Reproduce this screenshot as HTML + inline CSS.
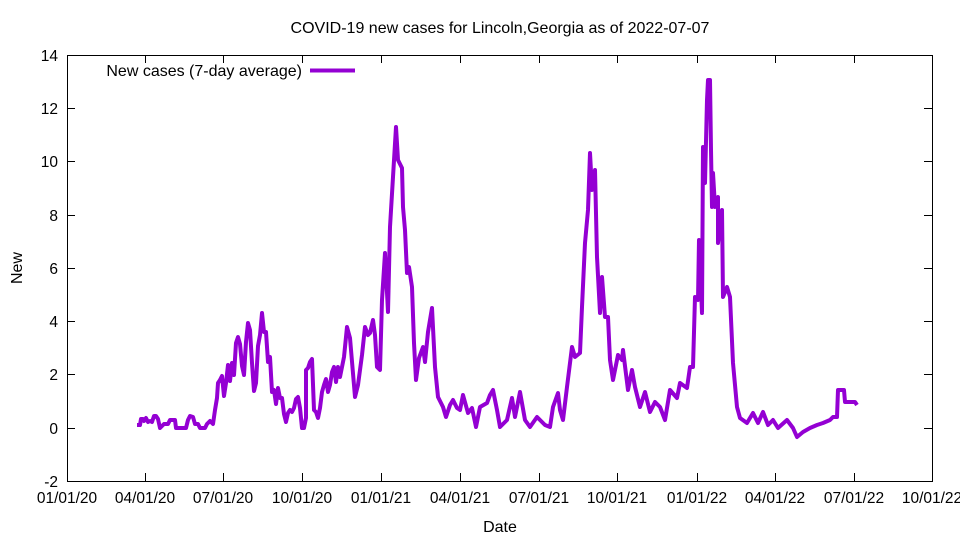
<!DOCTYPE html><html><head><style>body{margin:0;background:#fff}svg{display:block}text{font-family:"Liberation Sans",sans-serif;font-size:15.5px;fill:#000}</style></head><body>
<svg width="960" height="540" viewBox="0 0 960 540">
<rect x="67.5" y="55.5" width="865" height="426" fill="none" stroke="#000" stroke-width="1"/>
<g stroke="#000" stroke-width="1">
<path d="M67 481.5h8M67 428.5h8M67 374.5h8M67 321.5h8M67 268.5h8M67 215.5h8M67 161.5h8M67 108.5h8M67 55.5h8"/>
<path d="M932 481.5h-8M932 428.5h-8M932 374.5h-8M932 321.5h-8M932 268.5h-8M932 215.5h-8M932 161.5h-8M932 108.5h-8"/>
<path d="M145.5 481v-8M223.5 481v-8M302.5 481v-8M381.5 481v-8M460.5 481v-8M539.5 481v-8M617.5 481v-8M697.5 481v-8M775.5 481v-8M854.5 481v-8"/>
<path d="M145.5 55v8M223.5 55v8M302.5 55v8M381.5 55v8M460.5 55v8M539.5 55v8M617.5 55v8M697.5 55v8M775.5 55v8M854.5 55v8"/>
</g>
<g text-anchor="end">
<text x="58" y="487">-2</text><text x="58" y="434">0</text><text x="58" y="380">2</text><text x="58" y="327">4</text><text x="58" y="274">6</text><text x="58" y="221">8</text><text x="58" y="167">10</text><text x="58" y="114">12</text><text x="58" y="61">14</text>
</g>
<g text-anchor="middle">
<text x="67" y="503">01/01/20</text><text x="145" y="503">04/01/20</text><text x="223" y="503">07/01/20</text><text x="302" y="503">10/01/20</text><text x="381" y="503">01/01/21</text><text x="460" y="503">04/01/21</text><text x="539" y="503">07/01/21</text><text x="617" y="503">10/01/21</text><text x="697" y="503">01/01/22</text><text x="775" y="503">04/01/22</text><text x="854" y="503">07/01/22</text><text x="932" y="503">10/01/22</text>
<text x="500" y="532" style="font-size:16px">Date</text>
<text x="500" y="33" style="font-size:16px">COVID-19 new cases for Lincoln,Georgia as of 2022-07-07</text>
</g>
<text x="22" y="268" text-anchor="middle" transform="rotate(-90 22 268)" style="font-size:16px">New</text>
<text x="302" y="76" text-anchor="end" style="font-size:16px">New cases (7-day average)</text>
<path d="M310 70.5h45" stroke="#9400d3" stroke-width="4"/>
<polyline fill="none" stroke="#9400d3" stroke-width="4" stroke-linejoin="round" points="137,425 140,425 141,419 143,419 144,421 146,418 148,422 150,421 152,422 154,416 156,416 158,419 160,428 162,426 164,424 168,424 170,420 175,420 176,428 186,428 188,420 190,416 193,417 195,424 198,424 200,428 205,428 207,424 210,421 213,424 215,410 217,398 218,383 220,380 222,376 224,396 226,383 228,365 230,381 232,363 234,375 236,343 238,337 240,344 242,366 244,375 246,342 248,323 250,330 252,363 254,391 256,383 258,346 260,335 262,313 264,332 266,332 268,362 270,357 272,392 274,390 276,404 278,388 280,398 282,398 284,414 286,422 288,413 290,410 292,412 294,408 296,399 298,397 300,408 302,428 304,428 306,418 306,370 308,368 310,362 312,359 314,410 316,412 318,418 320,408 322,392 324,385 326,379 328,392 330,385 332,372 334,367 336,382 338,367 340,377 344,357 347,327 350,338 355,397 358,385 362,355 365,327 368,335 370,333 373,320 375,335 377,367 380,370 382,300 385,253 388,312 390,227 393,177 396,127 398,160 402,168 403,207 405,230 407,273 409,267 412,287 414,343 416,380 419,358 423,347 425,362 428,332 432,308 435,367 438,397 443,407 446,417 450,405 453,400 457,408 460,410 463,395 468,413 472,408 476,427 480,407 487,403 490,395 493,390 497,410 500,427 507,420 512,398 515,417 520,392 525,420 530,427 537,417 540,420 545,425 550,427 553,407 558,393 560,410 563,420 567,387 572,347 575,357 580,353 582,307 585,243 588,210 590,153 592,190 595,170 597,257 600,313 602,277 605,317 608,317 610,360 613,380 618,355 622,360 623,350 628,390 632,370 635,387 640,407 645,392 650,412 655,402 660,407 665,420 670,390 677,398 680,383 687,388 690,367 693,367 695,297 698,300 699,240 702,313 703,147 705,183 707,100 708,80 710,80 711,150 712,207 713,173 715,207 718,197 718,243 722,210 723,297 727,287 730,297 733,363 737,407 740,418 747,423 753,413 758,423 763,412 768,425 773,420 778,428 787,420 793,428 797,437 803,432 810,428 817,425 823,423 830,420 833,417 837,417 838,390 844,390 845,402 855,402 857,405"/>
</svg></body></html>
